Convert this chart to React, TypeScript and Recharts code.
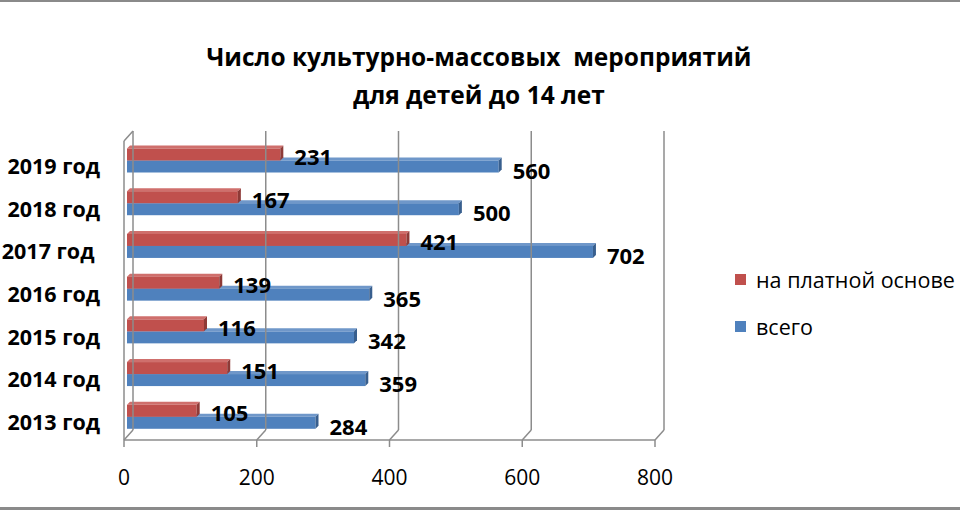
import React from 'react';
import { BarChart, Bar, XAxis, YAxis, Legend, LabelList } from 'recharts';

const categories = ['2019 год', '2018 год', '2017 год ', '2016 год', '2015 год', '2014 год', '2013 год'];
const paidValues = [231, 167, 421, 139, 116, 151, 105];
const totalValues = [560, 500, 702, 365, 342, 359, 284];
const xTicks = [0, 200, 400, 600, 800];
const titleLines = ['Число культурно-массовых  мероприятий', 'для детей до 14 лет'];
const seriesNames = { paid: 'на платной основе', total: 'всего' };

const rows = categories.map((c, i) => ({ year: c, paid: paidValues[i], total: totalValues[i] }));

const FONT = '"Open Sans", "Noto Sans", sans-serif';
const GRID = '#8c8c8c';
const PLOT_TOP = 141;
const PLOT_BOTTOM = 440;
const X_AXIS_H = 30;
const DX = 9;
const DY = 10;

const RED = { front: '#C0504D', top: '#cf6f6c', side: '#8e3a37' };
const BLUE = { front: '#4F81BD', top: '#6f97c9', side: '#385f8e' };

function make3D(c: { front: string; top: string; side: string }) {
  return (props: any) => {
    const { x, y, width, height } = props;
    const ox = x + 3;
    const oy = y - 1.5;
    const d = 3;
    return (
      <g>
        <polygon
          points={`${ox},${oy} ${ox + width},${oy} ${ox + width + d},${oy - d} ${ox + d},${oy - d}`}
          fill={c.top}
        />
        <rect x={ox} y={oy} width={width} height={height} fill={c.front} />
        <polygon
          points={`${ox + width},${oy} ${ox + width + d},${oy - d} ${ox + width + d},${oy + height - d} ${ox + width},${oy + height}`}
          fill={c.side}
        />
      </g>
    );
  };
}

const RedShape = make3D(RED);
const BlueShape = make3D(BLUE);

function makeLabel(dyExtra: number) {
  return (props: any) => {
    const { x, y, width, height, value } = props;
    return (
      <text
        x={x + width + 3 + 3 + 11}
        y={y - 1.5 + height / 2 + dyExtra}
        dominantBaseline="central"
        fontFamily={FONT}
        fontWeight={700}
        fontSize={22}
        fill="#000"
      >
        {value}
      </text>
    );
  };
}

const YTick = (props: any) => {
  const { x, y, payload } = props;
  return (
    <text
      x={x}
      y={y + 3}
      textAnchor="end"
      dominantBaseline="central"
      fontFamily={FONT}
      fontWeight={700}
      fontSize={21.5}
      fill="#000"
      style={{ whiteSpace: 'pre' }}
    >
      {payload.value}
    </text>
  );
};

const XTick = (props: any) => {
  const { x, payload } = props;
  return (
    <g>
      <line x1={x + DX} y1={PLOT_TOP - DY} x2={x + DX} y2={PLOT_BOTTOM - DY} stroke={GRID} strokeWidth={1.5} />
      <line x1={x} y1={PLOT_BOTTOM} x2={x + DX} y2={PLOT_BOTTOM - DY} stroke={GRID} strokeWidth={1.5} />
      {payload.value === 0 ? (
        <line x1={x} y1={PLOT_TOP} x2={x + DX} y2={PLOT_TOP - DY} stroke={GRID} strokeWidth={1.5} />
      ) : null}
      <text x={x} y={477} textAnchor="middle" dominantBaseline="central" fontFamily={FONT} fontSize={21} fill="#000">
        {payload.value}
      </text>
    </g>
  );
};

const LegendContent = () => {
  const items = [
    { name: seriesNames.paid, color: RED.front },
    { name: seriesNames.total, color: BLUE.front },
  ];
  return (
    <div style={{ fontFamily: FONT, fontSize: 21.5, color: '#000' }}>
      {items.map((it, i) => (
        <div key={i} style={{ display: 'flex', alignItems: 'center', height: 26, marginBottom: i === 0 ? 21 : 0, whiteSpace: 'nowrap' }}>
          <span style={{ display: 'inline-block', width: 11, height: 11, background: it.color, marginRight: 10 }} />
          <span>{it.name}</span>
        </div>
      ))}
    </div>
  );
};

export default function App() {
  return (
    <div style={{ position: 'absolute', left: 0, top: 0, width: 960, height: 510, background: '#fff', overflow: 'hidden' }}>
      <div style={{ position: 'absolute', left: 0, top: 0, width: 960, height: 2, background: '#8a8a8a' }} />
      <div style={{ position: 'absolute', left: 0, top: 507, width: 960, height: 3, background: '#8a8a8a' }} />
      <div
        style={{
          position: 'absolute',
          left: 0,
          top: 38,
          width: 958,
          textAlign: 'center',
          fontFamily: FONT,
          fontWeight: 700,
          fontSize: 24.5,
          lineHeight: '38px',
          color: '#000',
          whiteSpace: 'pre',
        }}
      >
        {titleLines.map((t, i) => (
          <div key={i}>{t}</div>
        ))}
      </div>
      <div style={{ position: 'absolute', left: 0, top: 0 }}>
        <BarChart
          width={960}
          height={510}
          layout="vertical"
          data={rows}
          margin={{ top: PLOT_TOP, right: 305, bottom: 510 - PLOT_BOTTOM - X_AXIS_H, left: 0 }}
          barSize={12}
          barGap={-24}
        >
          <XAxis
            type="number"
            domain={[0, 800]}
            ticks={xTicks}
            interval={0}
            height={X_AXIS_H}
            axisLine={{ stroke: GRID, strokeWidth: 1.5 }}
            tickLine={{ stroke: GRID, strokeWidth: 1.5 }}
            tickSize={7}
            tick={<XTick />}
          />
          <YAxis
            type="category"
            dataKey="year"
            width={124}
            tickSize={0}
            tickMargin={24}
            tickLine={false}
            axisLine={{ stroke: GRID, strokeWidth: 1.5 }}
            tick={<YTick />}
          />
          <Legend
            layout="horizontal"
            verticalAlign="middle"
            align="center"
            content={<LegendContent />}
            wrapperStyle={{ position: 'absolute', left: 735, top: 266, width: 225 }}
          />
          <Bar dataKey="total" name={seriesNames.total} fill={BLUE.front} shape={BlueShape} isAnimationActive={false}>
            <LabelList dataKey="total" content={makeLabel(3)} />
          </Bar>
          <Bar dataKey="paid" name={seriesNames.paid} fill={RED.front} shape={RedShape} isAnimationActive={false}>
            <LabelList dataKey="paid" content={makeLabel(1.5)} />
          </Bar>
        </BarChart>
      </div>
    </div>
  );
}
